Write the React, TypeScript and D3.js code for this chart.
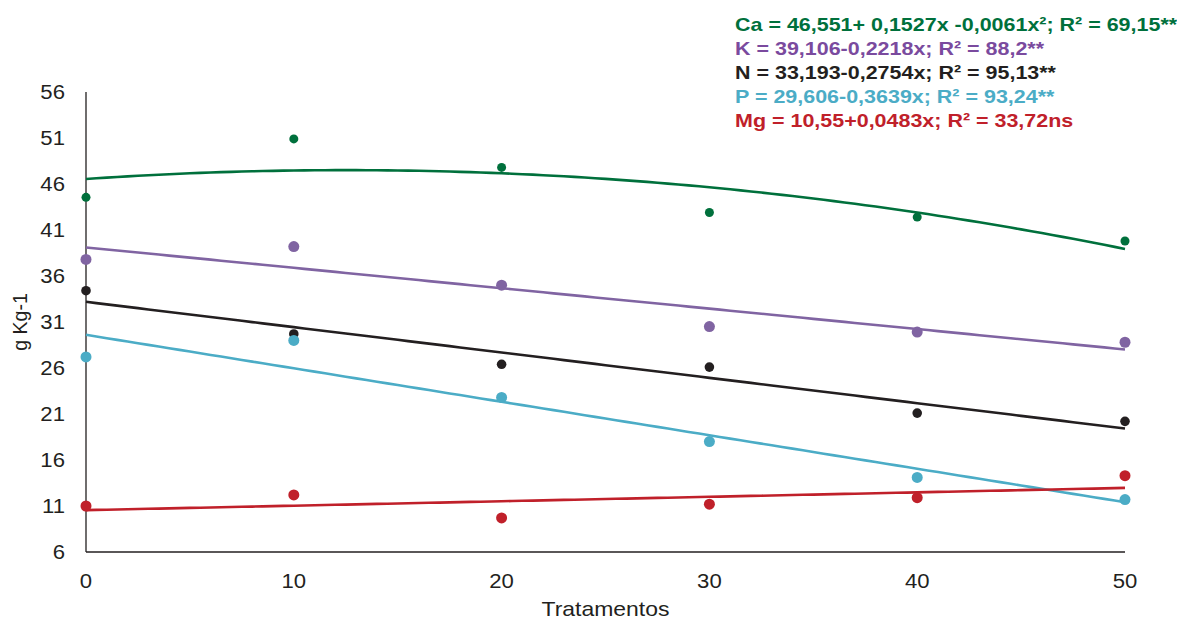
import React from "react";
import * as d3 from "d3";

const W = 1177;
const H = 621;

const treatments = [0, 10, 20, 30, 40, 50];
const yTicks = [6, 11, 16, 21, 26, 31, 36, 41, 46, 51, 56];
const xTicks = [0, 10, 20, 30, 40, 50];

const caValues = [44.55, 50.9, 47.8, 42.9, 42.4, 39.8];
const kValues = [37.8, 39.2, 35.0, 30.5, 29.9, 28.8];
const nValues = [34.4, 29.7, 26.4, 26.1, 21.1, 20.2];
const pValues = [27.2, 29.0, 22.8, 18.0, 14.1, 11.7];
const mgValues = [11.0, 12.2, 9.7, 11.2, 11.9, 14.3];

// regression coefficients [a, b, c] for y = a + b x + c x²
const caCoef = [46.551, 0.1527, -0.0061];
const kCoef = [39.106, -0.2218, 0];
const nCoef = [33.193, -0.2754, 0];
const pCoef = [29.606, -0.3639, 0];
const mgCoef = [10.55, 0.0483, 0];

const legendLines = [
  "Ca = 46,551+ 0,1527x -0,0061x²; R² = 69,15**",
  "K = 39,106-0,2218x; R² = 88,2**",
  "N = 33,193-0,2754x; R² = 95,13**",
  "P = 29,606-0,3639x; R² = 93,24**",
  "Mg = 10,55+0,0483x; R² = 33,72ns",
];

const series = [
  { name: "Ca", values: caValues, coef: caCoef, color: "#00703C", text: "#00703C", r: 4.5 },
  { name: "K", values: kValues, coef: kCoef, color: "#8064A2", text: "#7A4A9E", r: 5.5 },
  { name: "N", values: nValues, coef: nCoef, color: "#231F20", text: "#231F20", r: 4.8 },
  { name: "P", values: pValues, coef: pCoef, color: "#4BACC6", text: "#4BACC6", r: 5.5 },
  { name: "Mg", values: mgValues, coef: mgCoef, color: "#C0202A", text: "#C0202A", r: 5.5 },
];

const SX = 1.13;

export default function App() {
  const x = d3.scaleLinear().domain([0, 50]).range([86, 1125]);
  const y = d3.scaleLinear().domain([6, 56]).range([552, 92]);
  const samples = d3.range(0, 50.0001, 0.5);
  const line = d3
    .line<number[]>()
    .x((d) => x(d[0]))
    .y((d) => y(d[1]));
  const font = "'Liberation Sans', Arial, sans-serif";
  return (
    <svg
      width={W}
      height={H}
      style={{ position: "absolute", left: 0, top: 0, background: "#fff" }}
      fontFamily={font}
    >
      {/* axes */}
      <line x1={x(0)} x2={x(0)} y1={y(56)} y2={y(6)} stroke="#231F20" strokeWidth={1.3} />
      <line x1={x(0)} x2={x(50)} y1={y(6)} y2={y(6)} stroke="#231F20" strokeWidth={1.3} />
      {yTicks.map((t) => (
        <text
          key={t}
          transform={`translate(65,${y(t)}) scale(${SX},1)`}
          dy="0.35em"
          textAnchor="end"
          fontSize={19.6}
          fill="#231F20"
        >
          {t}
        </text>
      ))}
      {xTicks.map((t) => (
        <text
          key={t}
          transform={`translate(${x(t)},588) scale(${SX},1)`}
          textAnchor="middle"
          fontSize={19.6}
          fill="#231F20"
        >
          {t}
        </text>
      ))}
      <text
        transform={`translate(${(x(0) + x(50)) / 2},616) scale(1.12,1)`}
        textAnchor="middle"
        fontSize={20.5}
        fill="#231F20"
      >
        Tratamentos
      </text>
      <text
        transform={`translate(27,${(y(6) + y(56)) / 2}) rotate(-90)`}
        textAnchor="middle"
        fontSize={19.6}
        fill="#231F20"
      >
        g Kg-1
      </text>
      {/* trend lines */}
      {series.map((s) => (
        <path
          key={s.name + "-l"}
          d={line(samples.map((v) => [v, s.coef[0] + s.coef[1] * v + s.coef[2] * v * v])) || ""}
          fill="none"
          stroke={s.color}
          strokeWidth={2.6}
        />
      ))}
      {/* points */}
      {series.map((s) =>
        s.values.map((v, i) => (
          <circle key={s.name + i} cx={x(treatments[i])} cy={y(v)} r={s.r} fill={s.color} />
        ))
      )}
      {/* legend */}
      {legendLines.map((t, i) => (
        <text
          key={i}
          transform={`translate(735,${31 + i * 24}) scale(${SX},1)`}
          fontSize={19}
          fontWeight="bold"
          fill={series[i].text}
        >
          {t}
        </text>
      ))}
    </svg>
  );
}
